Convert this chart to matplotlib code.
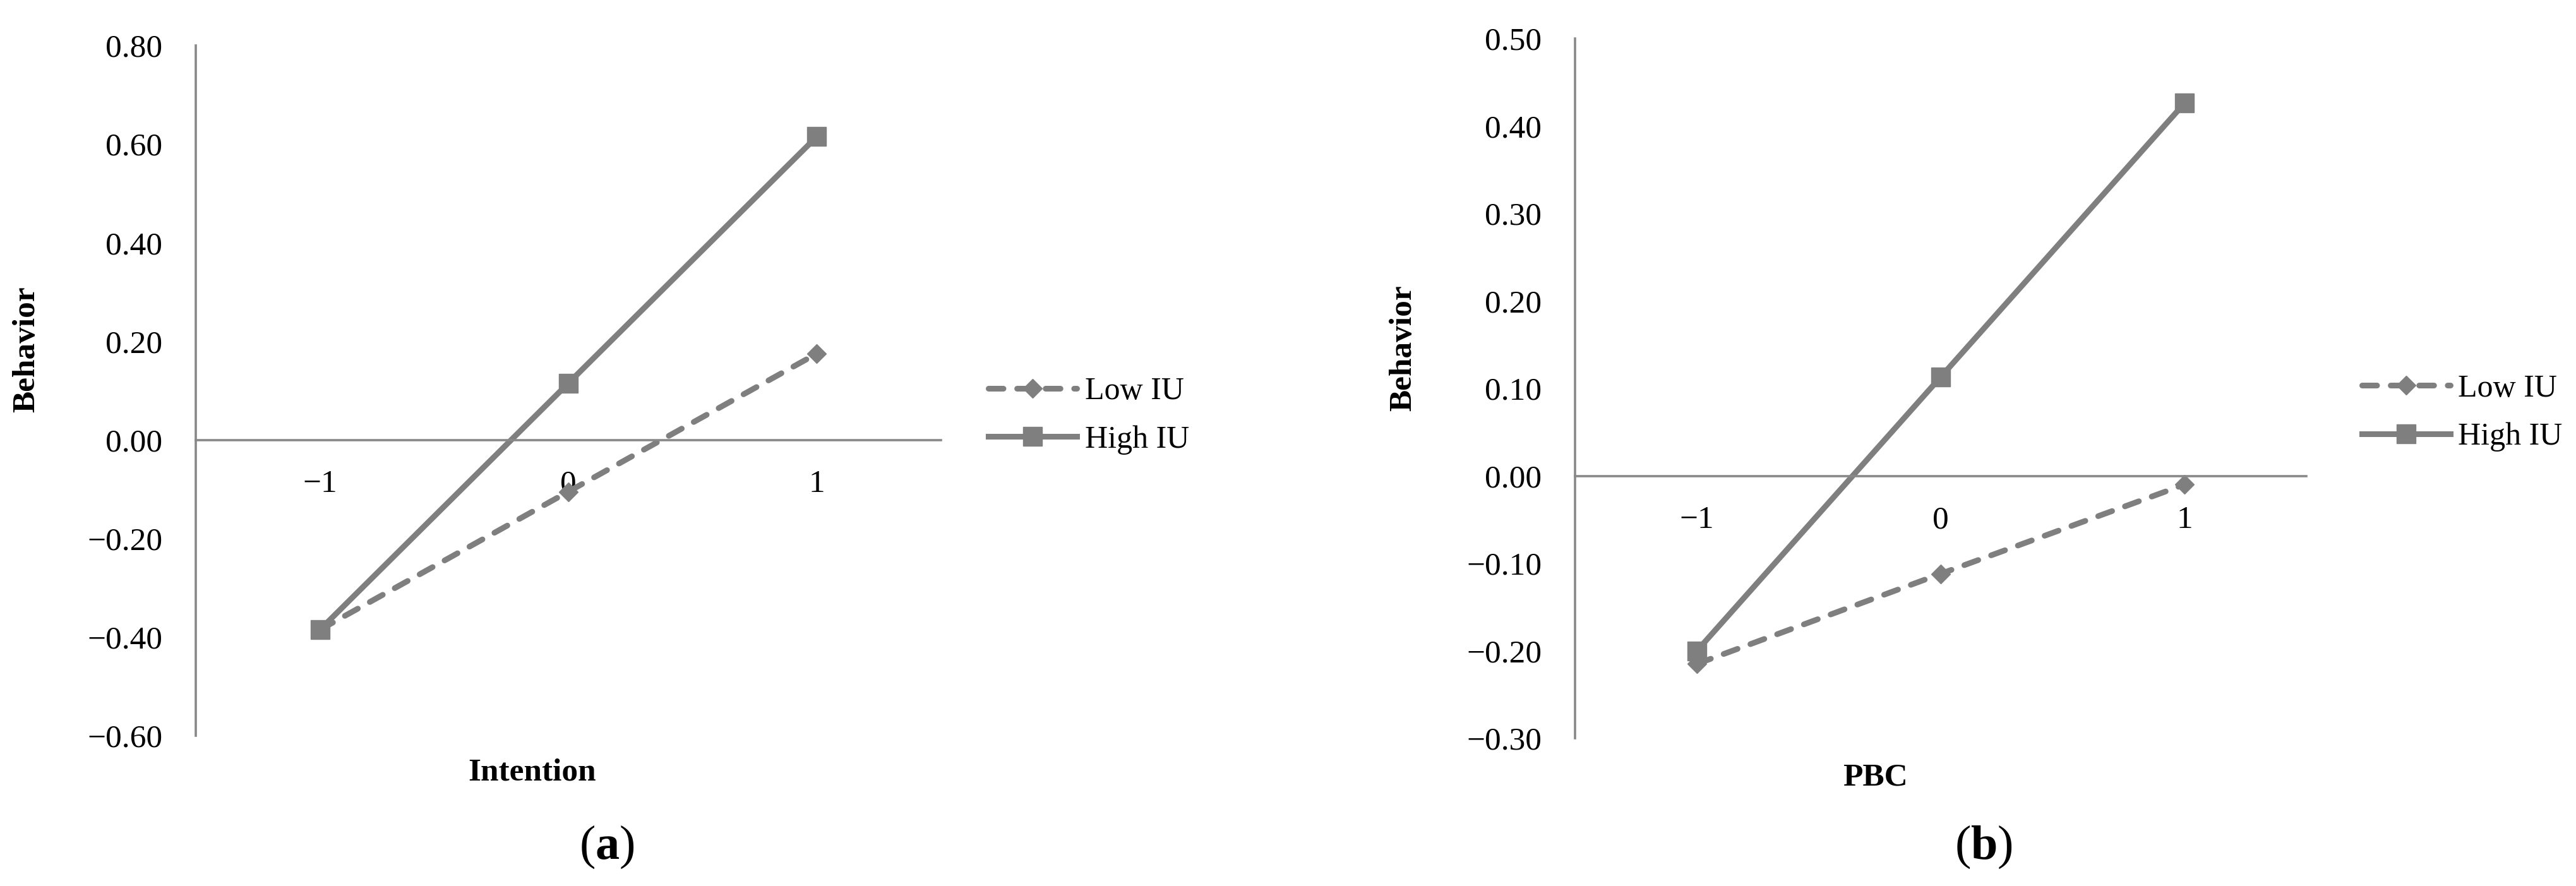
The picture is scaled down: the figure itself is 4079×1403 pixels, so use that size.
import numpy as np
import matplotlib
matplotlib.use("Agg")
import matplotlib.pyplot as plt

plt.rcParams['font.family'] = ['Liberation Serif', 'DejaVu Serif']
plt.rcParams['mathtext.fontset'] = 'custom'
plt.rcParams['mathtext.rm'] = 'Liberation Serif'
plt.rcParams['mathtext.bf'] = 'Liberation Serif:bold'

# data
x_vals = [-1, 0, 1]
x_labels = ['\u22121', '0', '1']
series_names = ['Low IU', 'High IU']

intention_low = [-0.385, -0.105, 0.175]
intention_high = [-0.385, 0.115, 0.615]
pbc_low = [-0.215, -0.112, -0.010]
pbc_high = [-0.200, 0.113, 0.426]

yticks_a = [-0.6, -0.4, -0.2, 0.0, 0.2, 0.4, 0.6, 0.8]
ylabels_a = ['\u22120.60', '\u22120.40', '\u22120.20', '0.00', '0.20', '0.40', '0.60', '0.80']
yticks_b = [-0.3, -0.2, -0.1, 0.0, 0.1, 0.2, 0.3, 0.4, 0.5]
ylabels_b = ['\u22120.30', '\u22120.20', '\u22120.10', '0.00', '0.10', '0.20', '0.30', '0.40', '0.50']

LINE_C = '#7f7f7f'
AXIS_C = '#888888'
W, H = 4079, 1403


def draw_panel(ax, low, high, yticks, ylabels, leg_xy):
    ax.plot(x_vals, low, color=LINE_C, lw=6.5, ls=(0, (2.6, 2.4)),
            dash_capstyle='round', marker='D', ms=15, mec=LINE_C, mfc=LINE_C,
            label=series_names[0])
    ax.plot(x_vals, high, color=LINE_C, lw=6.5, marker='s', ms=22,
            mec=LINE_C, mfc=LINE_C, label=series_names[1])
    ax.set_xlim(-1.5, 1.5)
    ax.set_ylim(yticks[0], yticks[-1])
    ax.set_xticks(x_vals)
    ax.set_xticklabels(x_labels)
    ax.set_yticks(yticks)
    ax.set_yticklabels(ylabels)
    for s in ['top', 'right']:
        ax.spines[s].set_visible(False)
    ax.spines['bottom'].set_position(('data', 0))
    for s in ['left', 'bottom']:
        ax.spines[s].set_color(AXIS_C)
        ax.spines[s].set_linewidth(2.6)
    ax.tick_params(axis='y', length=0, pad=38, labelsize=37)
    ax.tick_params(axis='x', length=0, pad=34, labelsize=37)
    ax.legend(loc='center left', bbox_to_anchor=leg_xy,
              bbox_transform=ax.figure.transFigure, frameon=False,
              fontsize=36, handlelength=2.8, handletextpad=0.25,
              labelspacing=0.6, borderpad=0, borderaxespad=0)


fig = plt.figure(figsize=(W / 100, H / 100), dpi=100)
ax1 = fig.add_axes([310 / W, 1 - 1165 / H, 1180 / W, 1093 / H])
ax2 = fig.add_axes([2494 / W, 1 - 1169 / H, 1158 / W, 1108 / H])

draw_panel(ax1, intention_low, intention_high, yticks_a, ylabels_a,
           (1565 / W, 1 - 658 / H))
draw_panel(ax2, pbc_low, pbc_high, yticks_b, ylabels_b,
           (3740 / W, 1 - 654 / H))

# axis titles
lab = dict(fontsize=37, fontweight='bold', ha='center', va='center')
fig.text(42 / W, 1 - 553 / H, 'Behavior', rotation=90, **lab)
fig.text(2222 / W, 1 - 551 / H, 'Behavior', rotation=90, **lab)
fig.text(843 / W, 1 - 1224 / H, 'Intention', **lab)
fig.text(2969 / W, 1 - 1231 / H, 'PBC', **lab)

# panel captions
fig.text(961 / W, 1 - 1341 / H, r'$\mathrm{(}\mathbf{a}\mathrm{)}$',
         fontsize=55, ha='center', va='center')
fig.text(3141 / W, 1 - 1341 / H, r'$\mathrm{(}\mathbf{b}\mathrm{)}$',
         fontsize=55, ha='center', va='center')

fig.savefig('out.png', dpi=100, facecolor='white')
